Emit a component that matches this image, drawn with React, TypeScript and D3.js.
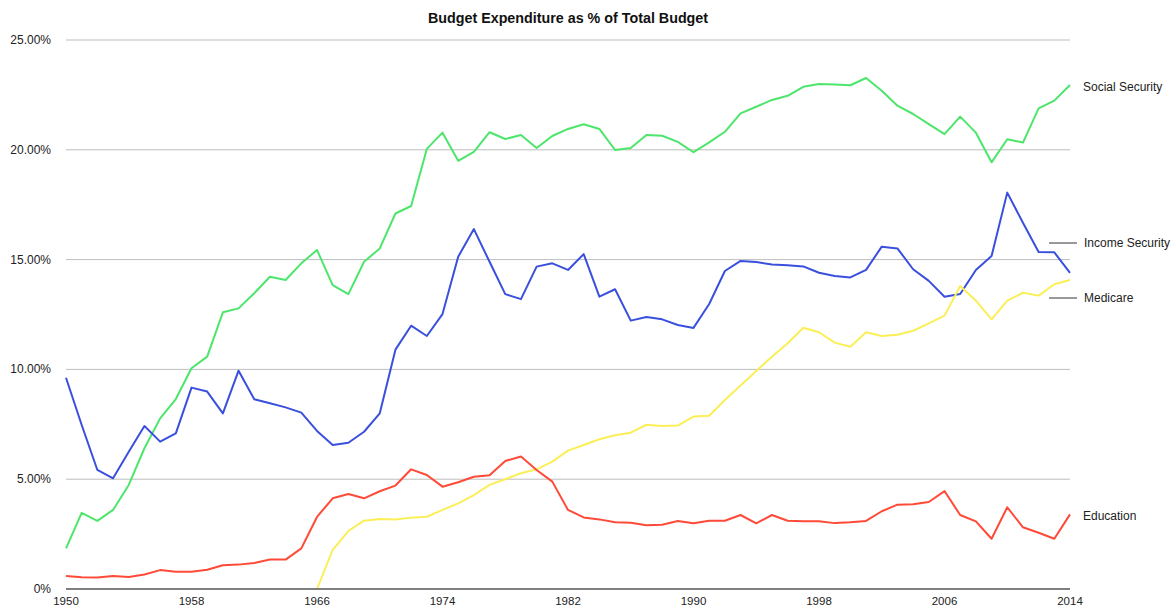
import React from "react";
import * as d3 from "d3";

const years: number[] = d3.range(1950, 2015);

const socialSecurity: number[] = [
  1.85, 3.47, 3.1, 3.6, 4.74, 6.41, 7.77, 8.65, 10.05, 10.58,
  12.6, 12.78, 13.47, 14.22, 14.07, 14.83, 15.44, 13.84, 13.43, 14.9,
  15.51, 17.1, 17.44, 20.04, 20.78, 19.5, 19.91, 20.8, 20.49, 20.67,
  20.08, 20.63, 20.95, 21.16, 20.95, 19.99, 20.08, 20.67, 20.64, 20.36,
  19.89, 20.34, 20.82, 21.66, 21.96, 22.27, 22.46, 22.87, 23.0, 22.97,
  22.94, 23.27, 22.69, 22.01, 21.63, 21.17, 20.71, 21.51, 20.78, 19.43,
  20.48, 20.33, 21.89, 22.24, 22.95,
];

const incomeSecurity: number[] = [
  9.62, 7.47, 5.42, 5.04, 6.25, 7.42, 6.71, 7.09, 9.17, 8.99,
  8.0, 9.94, 8.64, 8.46, 8.27, 8.03, 7.2, 6.56, 6.66, 7.16,
  8.0, 10.9, 11.99, 11.52, 12.52, 15.13, 16.39, 14.9, 13.43, 13.2,
  14.68, 14.83, 14.53, 15.25, 13.31, 13.65, 12.22, 12.39, 12.28, 12.02,
  11.89, 12.98, 14.48, 14.94, 14.89, 14.78, 14.74, 14.69, 14.4, 14.25,
  14.19, 14.53, 15.59, 15.51, 14.56, 14.03, 13.31, 13.43, 14.53, 15.16,
  18.05, 16.68, 15.35, 15.33, 14.4,
];

const education: number[] = [
  0.59, 0.53, 0.52, 0.59, 0.55, 0.66, 0.86, 0.79, 0.79, 0.88,
  1.08, 1.11, 1.18, 1.34, 1.34, 1.85, 3.28, 4.13, 4.33, 4.13,
  4.45, 4.71, 5.45, 5.19, 4.66, 4.86, 5.11, 5.18, 5.83, 6.03,
  5.42, 4.89, 3.6, 3.26, 3.17, 3.04, 3.02, 2.9, 2.93, 3.1,
  2.99, 3.11, 3.11, 3.37, 2.99, 3.37, 3.11, 3.08, 3.08, 3.0,
  3.04, 3.1, 3.54, 3.84, 3.86, 3.96, 4.46, 3.37, 3.08, 2.29,
  3.72, 2.81, 2.56, 2.29, 3.4,
];

// Medicare starts in 1966
const medicareYears: number[] = d3.range(1966, 2015);
const medicare: number[] = [
  0, 1.78, 2.64, 3.11, 3.19, 3.17, 3.25, 3.29, 3.6, 3.9,
  4.28, 4.74, 5.0, 5.27, 5.45, 5.8, 6.3, 6.56, 6.82, 7.0,
  7.12, 7.48, 7.42, 7.44, 7.85, 7.89, 8.61, 9.27, 9.93, 10.58,
  11.19, 11.9, 11.69, 11.22, 11.03, 11.69, 11.52, 11.58, 11.76, 12.1,
  12.45, 13.8, 13.13, 12.28, 13.13, 13.49, 13.36, 13.88, 14.07,
];

const yTicks: number[] = [0, 5, 10, 15, 20, 25];
const xTicks: number[] = [1950, 1958, 1966, 1974, 1982, 1990, 1998, 2006, 2014];

const title = "Budget Expenditure as % of Total Budget";

const W = 1172;
const H = 607;
const left = 66;
const right = 1070;
const top = 40;
const bottom = 589;

export default function App() {
  const x = d3.scaleLinear().domain([1950, 2014]).range([left, right]);
  const y = d3.scaleLinear().domain([0, 25]).range([bottom, top]);

  const line = d3
    .line<[number, number]>()
    .x((d) => x(d[0]))
    .y((d) => y(d[1]));

  const series = [
    { name: "Social Security", yrs: years, vals: socialSecurity, color: "#4de56c" },
    { name: "Income Security", yrs: years, vals: incomeSecurity, color: "#3a50dd" },
    { name: "Medicare", yrs: medicareYears, vals: medicare, color: "#fbef58" },
    { name: "Education", yrs: years, vals: education, color: "#ff4a38" },
  ];

  const font = "'Liberation Sans', Arial, Helvetica, sans-serif";
  const fmtY = (v: number) => (v === 0 ? "0%" : v.toFixed(2) + "%");

  return (
    <svg
      width={W}
      height={H}
      style={{ position: "absolute", left: 0, top: 0, background: "#fff" }}
      fontFamily={font}
    >
      <text x={568} y={23} textAnchor="middle" fontSize={14.3} fontWeight="bold" fill="#111">
        {title}
      </text>
      {yTicks.map((t) => (
        <g key={t}>
          {t !== 0 && (
            <line x1={left} x2={right} y1={y(t)} y2={y(t)} stroke="#bdbdbd" strokeWidth={1} />
          )}
          <text x={51} y={y(t) + 4} textAnchor="end" fontSize={12} fill="#222">
            {fmtY(t)}
          </text>
        </g>
      ))}
      {xTicks.map((t) => (
        <text key={t} x={x(t)} y={y(0) + 16} textAnchor="middle" fontSize={11.5} fill="#222">
          {t}
        </text>
      ))}
      {series.map((s) => (
        <path
          key={s.name}
          d={line(s.yrs.map((yr, i) => [yr, s.vals[i]] as [number, number])) || ""}
          fill="none"
          stroke={s.color}
          strokeWidth={2}
          strokeLinejoin="round"
        />
      ))}
      <line x1={left} x2={right} y1={y(0)} y2={y(0)} stroke="#555" strokeWidth={1.5} />
      <text x={1083} y={y(socialSecurity[64]) + 6} fontSize={12} fill="#222">
        Social Security
      </text>
      <line x1={1049} x2={1077} y1={243} y2={243} stroke="#333" strokeWidth={1} />
      <text x={1084} y={247} fontSize={12} fill="#222">
        Income Security
      </text>
      <line x1={1049} x2={1077} y1={298} y2={298} stroke="#333" strokeWidth={1} />
      <text x={1084} y={302} fontSize={12} fill="#222">
        Medicare
      </text>
      <text x={1083} y={y(education[64]) + 6} fontSize={12} fill="#222">
        Education
      </text>
    </svg>
  );
}
